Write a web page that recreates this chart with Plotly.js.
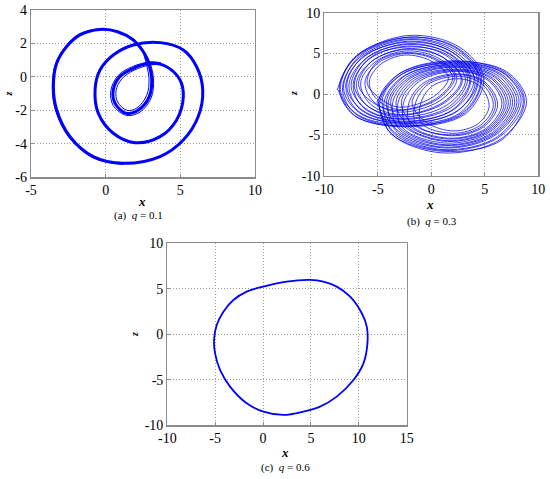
<!DOCTYPE html>
<html>
<head>
<meta charset="utf-8">
<script src="https://cdn.plot.ly/plotly-3.0.1.min.js"></script>
<style>html,body{margin:0;padding:0;background:#fff}#chart{width:550px;height:479px}</style>
</head>
<body>
<div id="chart"></div>
<script>
// ---------- (a) q = 0.1 : periodic orbit (x, z) ----------
const aOrbit = [[-0.38,2.84],[0.8,2.7],[1.85,2.21],[2.45,1.6],[2.75,1.11],[3.08,-0.08],[2.92,-1.18],[2.19,-1.98],[1.4,-2.18],[0.63,-1.58],[0.51,-0.78],[0.96,0.02],[1.85,0.51],[2.97,0.81],[4.08,0.61],[4.98,-0.18],[5.2,-1.18],[4.75,-2.57],[3.64,-3.57],[1.96,-3.93],[0.51,-3.37],[-0.49,-2.18],[-0.71,-0.78],[-0.38,0.41],[0.51,1.31],[1.85,1.91],[3.64,2.05],[5.2,1.61],[6.09,0.61],[6.5,-0.78],[6.2,-2.37],[5.2,-3.77],[3.64,-4.76],[1.18,-5.16],[-0.83,-4.76],[-2.39,-3.57],[-3.28,-1.98],[-3.5,-0.58],[-3.28,0.81],[-2.61,1.81],[-1.72,2.51],[-0.38,2.84]];
const aStrand2 = [[1.85,2.3],[2.4,1.7],[2.6,1.2],[2.9,-0.1],[2.75,-1.1],[2.1,-1.85],[1.45,-2.0],[0.8,-1.5],[0.7,-0.8],[1.1,-0.1],[1.9,0.4],[2.9,0.7],[3.6,0.75]];
const aStrand3 = [[1.9,2.15],[2.55,1.5],[2.9,1.0],[3.2,-0.1],[3.05,-1.25],[2.3,-2.1],[1.4,-2.3],[0.5,-1.7],[0.35,-0.8],[0.85,0.1],[1.8,0.62],[3.0,0.9],[3.7,0.85]];
const aStrand4 = [[-0.4,2.9],[-1.75,2.58],[-2.66,1.86],[-3.35,0.82],[-3.58,-0.58],[-3.36,-2.0],[-2.45,-3.63],[-0.85,-4.84],[1.18,-5.24]];

// ---------- (b) q = 0.3 : chaotic attractor, two wings (x, z) ----------
const bLeftWing = [
 [-8.8,0.5],[-7.2,4.5],[-2.2,7.2],[2.6,5.8],[4.9,2.0],[3.2,-2.4],[-2.5,-4.0],[-7.2,-2.6],
 [-8.6,0.7],[-7.0,4.6],[-2.0,7.0],[2.5,5.5],[4.6,1.7],[2.9,-2.3],[-2.7,-3.9],[-7.1,-2.4],
 [-8.3,0.8],[-6.7,4.5],[-2.1,6.7],[2.1,5.3],[4.3,1.8],[2.5,-2.0],[-2.6,-3.6],[-6.8,-2.1],
 [-8.0,1.0],[-6.5,4.4],[-2.2,6.5],[1.9,5.2],[4.0,1.9],[2.2,-1.8],[-2.7,-3.4],[-6.6,-1.9],
 [-7.7,1.1],[-6.2,4.3],[-2.2,6.2],[1.6,5.0],[3.6,1.8],[1.9,-1.6],[-2.8,-3.1],[-6.3,-1.7],
 [-7.3,1.2],[-5.9,4.2],[-2.3,5.9],[1.3,4.8],[3.2,1.8],[1.5,-1.3],[-2.9,-2.8],[-6.0,-1.4],
 [-7.0,1.3],[-5.6,4.0],[-2.3,5.6],[1.0,4.6],[2.8,1.8],[1.1,-1.0],[-2.9,-2.5],[-5.7,-1.2],
 [-6.6,1.4],[-5.3,3.9],[-2.4,5.3],[0.7,4.4],[2.4,1.9],[0.8,-0.8],[-3.0,-2.2],[-5.4,-0.9],
 [-6.2,1.5],[-5.0,3.8],[-2.4,5.0],[0.4,4.2],[2.0,2.0],[0.5,-0.5],[-3.0,-1.9],[-5.1,-0.6],
 [-5.8,1.5],[-4.8,3.6],[-2.5,4.8],[0.1,4.0],[1.6,2.0],[0.2,-0.3],[-3.0,-1.6],[-4.9,-0.4],
 [-6.0,1.4],[-5.1,3.9],[-2.5,5.1],[0.5,4.3],[2.2,2.1],[0.6,-0.6],[-3.1,-2.0],[-5.5,-1.0],
 [-6.8,1.2],[-5.5,4.1],[-2.3,5.5],[1.1,4.5],[2.9,1.7],[1.2,-1.1],[-2.9,-2.6],[-5.9,-1.5],
 [-7.2,1.1],[-5.8,4.4],[-2.2,5.8],[1.4,4.9],[3.4,2.0],[1.7,-1.5],[-2.8,-3.0],[-6.1,-1.8],
 [-7.5,1.0],[-6.0,4.5],[-2.2,6.1],[1.7,5.0],[3.7,2.0],[2.0,-1.9],[-2.7,-3.3],[-6.4,-2.0],
 [-7.9,0.9],[-6.4,4.6],[-2.0,6.4],[2.0,5.1],[4.1,1.6],[2.4,-2.1],[-2.6,-3.5],[-6.7,-2.3],
 [-8.2,0.7],[-6.7,4.7],[-2.1,6.8],[2.2,5.5],[4.4,2.2],[2.8,-2.2],[-2.4,-3.7],[-6.9,-2.5],
 [-8.5,0.6],[-6.9,4.8],[-2.1,7.0],[2.4,5.7],[4.7,2.1],[3.1,-2.3],[-2.4,-3.9],[-7.1,-2.7],
 [-8.7,0.5]
];
const bRightWing = [
 [-5.1,-1.0],[-3.0,2.5],[2.0,4.0],[7.0,2.8],[8.9,-0.9],[6.5,-5.5],[1.0,-7.2],[-3.8,-4.8],
 [-4.8,-0.9],[-2.8,2.4],[2.1,3.9],[6.8,2.6],[8.6,-0.9],[6.3,-5.3],[1.1,-6.9],[-3.6,-4.7],
 [-4.4,-0.9],[-2.5,2.3],[2.2,3.7],[6.5,2.5],[8.2,-0.9],[6.0,-5.0],[1.2,-6.6],[-3.3,-4.5],
 [-4.0,-0.9],[-2.2,2.2],[2.3,3.5],[6.2,2.3],[7.8,-1.0],[5.8,-4.8],[1.3,-6.3],[-3.0,-4.3],
 [-3.6,-1.0],[-1.9,2.0],[2.3,3.3],[5.9,2.1],[7.4,-1.0],[5.5,-4.6],[1.4,-6.0],[-2.7,-4.1],
 [-3.1,-1.0],[-1.5,1.8],[2.4,3.0],[5.6,1.9],[7.0,-1.1],[5.3,-4.4],[1.5,-5.7],[-2.3,-3.9],
 [-2.6,-1.1],[-1.1,1.6],[2.5,2.8],[5.3,1.7],[6.6,-1.2],[5.1,-4.2],[1.7,-5.4],[-1.9,-3.8],
 [-2.1,-1.1],[-0.7,1.4],[2.5,2.5],[5.0,1.5],[6.2,-1.3],[4.9,-4.0],[1.9,-5.1],[-1.4,-3.7],
 [-1.5,-1.2],[-0.3,1.2],[2.6,2.2],[4.8,1.2],[5.8,-1.4],[4.6,-3.8],[2.0,-4.8],[-0.9,-3.6],
 [-1.0,-1.2],[0.1,1.0],[2.6,1.9],[4.6,0.9],[5.4,-1.5],[4.4,-3.6],[2.1,-4.5],[-0.4,-3.5],
 [-1.8,-1.1],[-0.5,1.3],[2.6,2.4],[4.9,1.4],[6.0,-1.3],[4.8,-3.9],[1.9,-5.0],[-1.6,-3.8],
 [-2.8,-1.0],[-1.3,1.7],[2.4,2.9],[5.4,1.8],[6.8,-1.2],[5.2,-4.3],[1.6,-5.5],[-2.1,-3.9],
 [-3.3,-1.0],[-1.7,1.9],[2.4,3.1],[5.7,2.0],[7.2,-1.1],[5.4,-4.5],[1.5,-5.8],[-2.5,-4.0],
 [-3.8,-0.9],[-2.0,2.1],[2.3,3.4],[6.0,2.2],[7.6,-1.0],[5.7,-4.7],[1.3,-6.2],[-2.9,-4.2],
 [-4.2,-1.0],[-2.4,2.3],[2.2,3.6],[6.4,2.4],[8.0,-1.0],[5.9,-4.9],[1.2,-6.5],[-3.2,-4.4],
 [-4.6,-0.8],[-2.7,2.5],[2.1,3.8],[6.7,2.6],[8.4,-0.8],[6.2,-5.2],[1.1,-6.8],[-3.5,-4.6],
 [-4.9,-0.8],[-2.9,2.6],[2.0,4.1],[6.9,2.7],[8.7,-0.7],[6.6,-5.6],[1.0,-7.0],[-3.7,-4.9],
 [-5.0,-0.9]
];

// ---------- (c) q = 0.6 : limit cycle (x, z) ----------
const cCycle = [[4.91,5.97],[2.47,5.79],[0.03,5.24],[-1.71,4.69],[-3.1,3.77],[-4.14,2.49],[-4.84,1.03],[-5.12,-0.62],[-5.01,-2.09],[-4.49,-3.92],[-3.45,-5.75],[-1.71,-7.58],[0.03,-8.5],[2.12,-8.86],[4.21,-8.5],[5.95,-7.95],[7.69,-6.85],[9.44,-5.02],[10.48,-3.19],[10.9,-0.99],[10.83,0.84],[10.31,2.31],[9.09,4.14],[7.69,5.24],[6.3,5.79],[4.91,5.97]];

// ---------- ticks ----------
const aXTicks = [-5, 0, 5, 10];
const aYTicks = [-6, -4, -2, 0, 2, 4];
const bXTicks = [-10, -5, 0, 5, 10];
const bYTicks = [-10, -5, 0, 5, 10];
const cXTicks = [-10, -5, 0, 5, 10, 15];
const cYTicks = [-10, -5, 0, 5, 10];
const captions = ['(a)  <i>q</i> = 0.1', '(b)  <i>q</i> = 0.3', '(c)  <i>q</i> = 0.6'];

const xs = p => p.map(v => v[0]);
const ys = p => p.map(v => v[1]);
const lbl = t => t.map(v => String(v)); // hyphen-minus like the original

const SERIF = 'Liberation Serif';
const blue = '#0000ff';
function line(pts, ax, w){
  return {x: xs(pts), y: ys(pts), xaxis: 'x'+ax, yaxis: 'y'+ax, type: 'scatter', mode: 'lines',
    line: {color: blue, width: w, shape: 'spline', smoothing: 1}, hoverinfo: 'skip', showlegend: false};
}
const traces = [
  line(aOrbit, '', 3), line(aStrand2, '', 1), line(aStrand3, '', 1), line(aStrand4, '', 1),
  line(bLeftWing, '2', 0.75), line(bRightWing, '2', 0.75),
  line(cCycle, '3', 1.8)
];

const W = 550, H = 479;
const fx = p => p / W, fy = p => 1 - p / H;
function axis(domain, range, ticks, anchor){
  return {domain: domain, range: range, anchor: anchor, tickmode: 'array', tickvals: ticks, ticktext: lbl(ticks),
    showgrid: true, gridcolor: '#9a9a9a', griddash: '1px,2px', gridwidth: 1, zeroline: false,
    showline: true, mirror: true, linecolor: '#8c8c8c', linewidth: 1.2,
    ticks: 'inside', ticklen: 3, tickcolor: '#8c8c8c',
    tickfont: {family: SERIF, size: 14, color: '#000'},
    fixedrange: true};
}
const layout = {
  width: W, height: H, margin: {l: 0, r: 0, t: 0, b: 0}, paper_bgcolor: '#fff', plot_bgcolor: '#fff', showlegend: false,
  font: {family: SERIF},
  xaxis: axis([fx(31), fx(255)], [-5, 10], aXTicks, 'y'),
  yaxis: axis([fy(177.3), fy(10)], [-6, 4], aYTicks, 'x'),
  xaxis2: axis([fx(324.3), fx(538.3)], [-10, 10], bXTicks, 'y2'),
  yaxis2: axis([fy(175.7), fy(12.7)], [-10, 10], bYTicks, 'x2'),
  xaxis3: axis([fx(167.3), fx(406.7)], [-10, 15], cXTicks, 'y3'),
  yaxis3: axis([fy(425.3), fy(243.3)], [-10, 10], cYTicks, 'x3'),
  annotations: []
};
const titleFont = {family: SERIF, size: 13, color: '#000'};
const zFont = {family: SERIF, size: 10, color: '#000'};
function ann(text, px, py, font, angle){
  layout.annotations.push({text: text, x: fx(px), y: fy(py), xref: 'paper', yref: 'paper', showarrow: false,
    xanchor: 'center', yanchor: 'middle', font: font, textangle: angle || 0, borderpad: 0});
}
// axis titles
ann('<b><i>x</i></b>', 142, 201, titleFont);
ann('<b><i>z</i></b>', 7.5, 94, zFont, -90);
ann('<b><i>x</i></b>', 430, 204.5, titleFont);
ann('<b><i>z</i></b>', 293, 94, zFont, -90);
ann('<b><i>x</i></b>', 285, 452.5, titleFont);
ann('<b><i>z</i></b>', 134, 335, zFont, -90);
// captions
const capFont = {family: SERIF, size: 11, color: '#000'};
ann(captions[0], 138, 215.5, capFont);
ann(captions[1], 431.5, 221.5, capFont);
ann(captions[2], 285, 467.5, capFont);

Plotly.newPlot('chart', traces, layout, {staticPlot: true, displayModeBar: false});
</script>
</body>
</html>
